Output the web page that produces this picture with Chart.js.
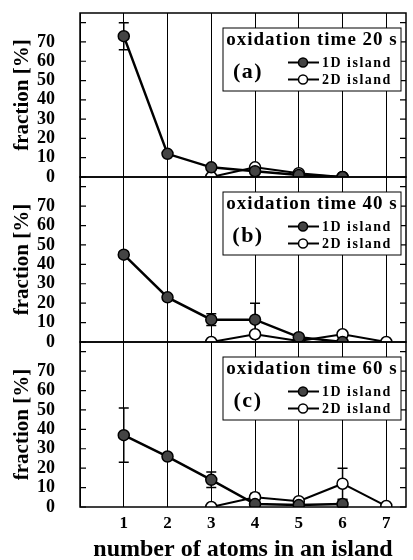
<!DOCTYPE html>
<html>
<head>
<meta charset="utf-8">
<script src="https://cdn.jsdelivr.net/npm/chart.js@4/dist/chart.umd.min.js"></script>
<style>
  html, body { margin: 0; padding: 0; background: #fff; }
  #wrap { position: relative; width: 413px; height: 560px; overflow: hidden; }
  #wrap canvas { position: absolute; left: 0; top: 0; }
</style>
</head>
<body>
<div id="wrap">
  <canvas id="panelA" width="413" height="560"></canvas>
  <canvas id="panelB" width="413" height="560"></canvas>
  <canvas id="panelC" width="413" height="560"></canvas>
</div>
<script>
// --- data ---
const atoms = [1, 2, 3, 4, 5, 6, 7];
const yTickValues = [0, 10, 20, 30, 40, 50, 60, 70, 80];

// oxidation time 20 s
const oneD_20s = [73, 12, 5, 3, 1, 0, null];
const oneD_20s_err = [7, null, null, null, null, null, null];
const twoD_20s = [null, null, 0, 5, 2, 0, null];
const twoD_20s_err = [null, null, null, null, null, null, null];

// oxidation time 40 s
const oneD_40s = [45, 23, 11.5, 11.5, 2.5, 0, null];
const oneD_40s_err = [1.5, 1, 3, 8.5, 1.5, null, null];
const twoD_40s = [null, null, 0, 4, 0.5, 4, 0];
const twoD_40s_err = [null, null, null, null, null, null, null];

// oxidation time 60 s
const oneD_60s = [37, 26, 14, 1.5, 1, 1.5, null];
const oneD_60s_err = [14, null, 4, null, null, 2, null];
const twoD_60s = [null, null, 0, 5, 3, 12, 0.5];
const twoD_60s_err = [null, null, null, 2, null, 8, null];

const panelTitles = ['oxidation time 20 s', 'oxidation time 40 s', 'oxidation time 60 s'];
const panelTags = ['(a)', '(b)', '(c)'];
const seriesNames = ['1D island', '2D island'];

const SERIF = '"Liberation Serif", "Times New Roman", serif';
Chart.defaults.font.family = SERIF;
Chart.defaults.font.weight = 'bold';
Chart.defaults.color = '#000';

const toPoints = vals => atoms.map((a, i) => ({ x: a, y: vals[i] }));

// error bars, drawn under the markers
const errorBars = {
    id: 'errorBars',
    beforeDatasetsDraw(chart) {
        const { ctx, scales: { x, y } } = chart;
        ctx.save();
        ctx.strokeStyle = '#000';
        ctx.lineWidth = 1.5;
        chart.data.datasets.forEach(ds => {
            if (!ds.errors) return;
            ds.data.forEach((p, i) => {
                const e = ds.errors[i];
                if (p.y == null || !e) return;
                const px = x.getPixelForValue(p.x);
                const yTop = y.getPixelForValue(p.y + e);
                const yBot = y.getPixelForValue(Math.max(p.y - e, 0));
                ctx.beginPath();
                ctx.moveTo(px, yTop); ctx.lineTo(px, yBot);
                ctx.moveTo(px - 5, yTop); ctx.lineTo(px + 5, yTop);
                ctx.moveTo(px - 5, yBot); ctx.lineTo(px + 5, yBot);
                ctx.stroke();
            });
        });
        ctx.restore();
    }
};

// frame, inward ticks and the boxed legend of each panel
const panelDecor = {
    id: 'panelDecor',
    afterDraw(chart, args, opts) {
        const { ctx, chartArea: { left, right, top, bottom }, scales: { y } } = chart;
        ctx.save();
        ctx.strokeStyle = '#000';
        ctx.lineWidth = 1.5;
        ctx.strokeRect(left, top, right - left, bottom - top);
        ctx.lineWidth = 1.2;
        yTickValues.forEach(v => {
            const py = y.getPixelForValue(v);
            ctx.beginPath();
            ctx.moveTo(left, py); ctx.lineTo(left + 6, py);
            ctx.moveTo(right - 6, py); ctx.lineTo(right, py);
            ctx.stroke();
        });

        // legend box
        const bw = 178, bh = 63;
        const bx = right - bw - 5, by = top + 15;
        ctx.fillStyle = '#fff';
        ctx.fillRect(bx, by, bw, bh);
        ctx.lineWidth = 1;
        ctx.strokeRect(bx, by, bw, bh);

        ctx.fillStyle = '#000';
        ctx.textBaseline = 'middle';
        ctx.textAlign = 'center';
        ctx.font = 'bold 19px ' + SERIF;
        ctx.letterSpacing = '1px';
        ctx.fillText(opts.title, bx + bw / 2, by + 12);

        ctx.font = 'bold 22px ' + SERIF;
        ctx.letterSpacing = '1.5px';
        ctx.fillText(opts.tag, bx + 25, by + 44);

        const rows = [by + 34.5, by + 51.5];
        rows.forEach((ry, i) => {
            ctx.lineWidth = 2;
            ctx.beginPath();
            ctx.moveTo(bx + 65, ry); ctx.lineTo(bx + 96, ry);
            ctx.stroke();
            ctx.beginPath();
            ctx.arc(bx + 80, ry, 4.5, 0, Math.PI * 2);
            ctx.fillStyle = i === 0 ? '#444' : '#fff';
            ctx.fill();
            ctx.lineWidth = 1.5;
            ctx.stroke();
            ctx.fillStyle = '#000';
            ctx.textAlign = 'left';
            ctx.font = 'bold 14px ' + SERIF;
            ctx.letterSpacing = '1.5px';
            ctx.fillText(seriesNames[i], bx + 99, ry + 1);
        });
        ctx.restore();
    }
};

const makePanel = (canvasId, idx, one, oneErr, two, twoErr, areaTop, areaBottom, showX) => {
    const ctx = document.getElementById(canvasId).getContext('2d');
    return new Chart(ctx, {
        type: 'line',
        data: {
            datasets: [{
                label: seriesNames[0],
                data: toPoints(one),
                errors: oneErr,
                borderColor: '#000',
                borderWidth: 2.5,
                pointRadius: 5.5,
                pointBackgroundColor: '#444',
                pointBorderColor: '#000',
                pointBorderWidth: 1.5,
                tension: 0
            }, {
                label: seriesNames[1],
                data: toPoints(two),
                errors: twoErr,
                borderColor: '#000',
                borderWidth: 2,
                pointRadius: 5.5,
                pointBackgroundColor: '#fff',
                pointBorderColor: '#000',
                pointBorderWidth: 1.5,
                tension: 0
            }]
        },
        options: {
            responsive: false,
            animation: false,
            events: [],
            layout: {
                padding: { left: 0, right: 3, top: areaTop, bottom: showX ? 0 : 560 - areaBottom }
            },
            scales: {
                x: {
                    type: 'linear',
                    min: 0,
                    max: 7.45,
                    grid: { color: '#000', lineWidth: 1, drawTicks: false },
                    border: { display: false },
                    ticks: {
                        display: showX,
                        stepSize: 1,
                        includeBounds: false,
                        padding: 6,
                        font: { size: 17, weight: 'bold' },
                        callback: v => (v >= 1 && v <= 7) ? v : ''
                    },
                    title: {
                        display: showX,
                        text: 'number of atoms in an island',
                        font: { size: 24, weight: 'bold', lineHeight: 1 },
                        padding: { top: 0, bottom: -2 }
                    },
                    afterFit: s => {
                        s.height = showX ? 560 - areaBottom : 0;
                        s.paddingLeft = 0; s.paddingRight = 0;
                    }
                },
                y: {
                    min: 0,
                    max: 85,
                    grid: { display: false, drawTicks: false },
                    border: { display: false },
                    ticks: {
                        stepSize: 10,
                        autoSkip: false,
                        padding: 25,
                        font: { size: 18, weight: 'bold' },
                        callback: v => v <= 70 ? v : ''
                    },
                    title: {
                        display: true,
                        text: 'fraction [%]',
                        font: { size: 21, weight: 'bold' },
                        padding: { top: 10, bottom: 0 }
                    },
                    afterFit: s => {
                        s.width = 80;
                        s.paddingTop = 0; s.paddingBottom = 0;
                    }
                }
            },
            plugins: {
                legend: { display: false },
                tooltip: { enabled: false },
                panelDecor: { title: panelTitles[idx], tag: panelTags[idx] }
            }
        },
        plugins: [errorBars, panelDecor]
    });
};

makePanel('panelA', 0, oneD_20s, oneD_20s_err, twoD_20s, twoD_20s_err, 13, 177, false);
makePanel('panelB', 1, oneD_40s, oneD_40s_err, twoD_40s, twoD_40s_err, 177, 342, false);
makePanel('panelC', 2, oneD_60s, oneD_60s_err, twoD_60s, twoD_60s_err, 342, 507, true);
</script>
</body>
</html>
